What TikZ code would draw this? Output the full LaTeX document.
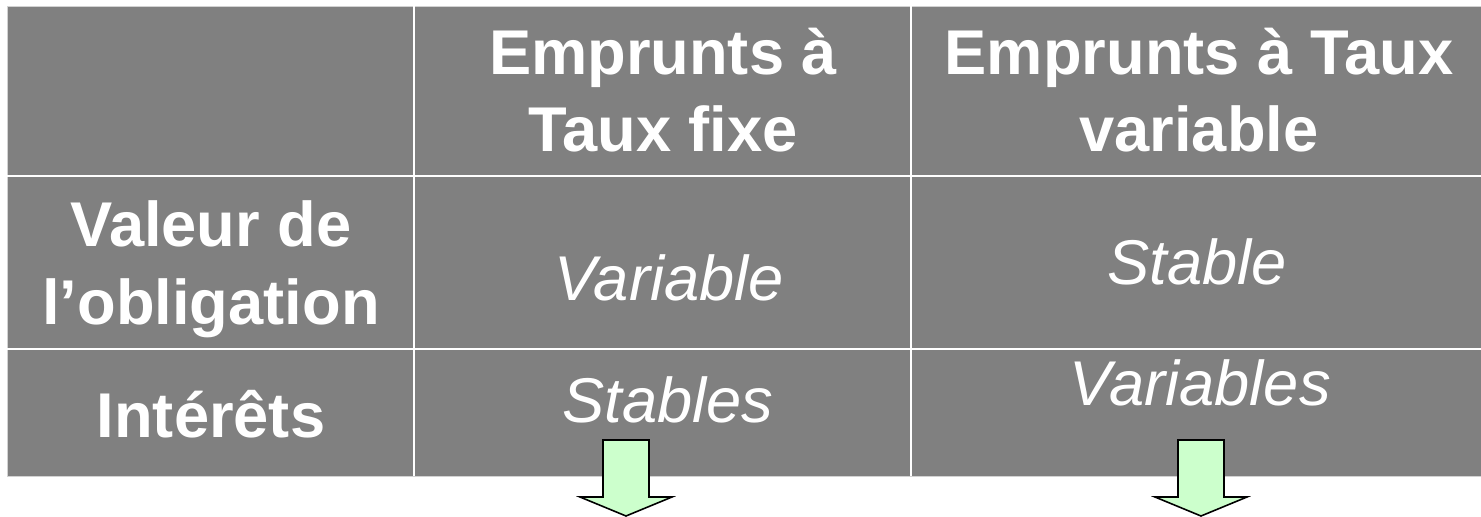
\documentclass[tikz,border=0pt]{standalone}
\usepackage{fontspec}
\setmainfont{Liberation Sans}
\definecolor{cellgray}{HTML}{808080}
\definecolor{arrowgreen}{HTML}{CCFFCC}
\tikzset{
  headtext/.style={text=white, font=\fontsize{36}{44}\selectfont\bfseries, align=center, anchor=base, inner sep=0pt},
  celltext/.style={text=white, font=\fontsize{36}{44}\selectfont\itshape, anchor=base, inner sep=0pt},
  gridline/.style={white, line width=1.5pt},
  downarrow/.style={draw=black, fill=arrowgreen, line width=0.9pt, line join=miter}
}
\begin{document}
\begin{tikzpicture}[x=0.02cm, y=-0.02cm]
\useasboundingbox (0,0) rectangle (1481,517);
% Table background
\filldraw[fill=cellgray, draw=gray!35, line width=0.5pt] (7,6) rectangle (1481,476);
% Grid lines
\draw[gridline] (414,6) -- (414,476);
\draw[gridline] (911,6) -- (911,476);
\draw[gridline] (7,176) -- (1481,176);
\draw[gridline] (7,349) -- (1481,349);
% Header row (base = last line)
\node[headtext] (headfixe) at (663,152) {Emprunts à\\Taux fixe};
\node[headtext] (headvar) at (1199,152) {Emprunts à Taux\\variable};
% Row labels
\node[headtext] (rowvaleur) at (211,324) {Valeur de\\l’obligation};
\node[headtext] (rowinterets) at (211,437) {Intérêts};
% Entries
\node[celltext] (valfixe) at (669,300) {Variable};
\node[celltext] (valvar) at (1197,284) {Stable};
\node[celltext] (intfixe) at (668,422) {Stables};
\node[celltext] (intvar) at (1200,405) {Variables};
% Down arrows
\draw[downarrow] (603,440) -- (649,440) -- (649,497) -- (672,497) -- (626,516)
  -- (580,497) -- (603,497) -- cycle;
\draw[downarrow] (1178,440) -- (1224,440) -- (1224,497) -- (1247,497) -- (1201,516)
  -- (1155,497) -- (1178,497) -- cycle;
\end{tikzpicture}
\end{document}
